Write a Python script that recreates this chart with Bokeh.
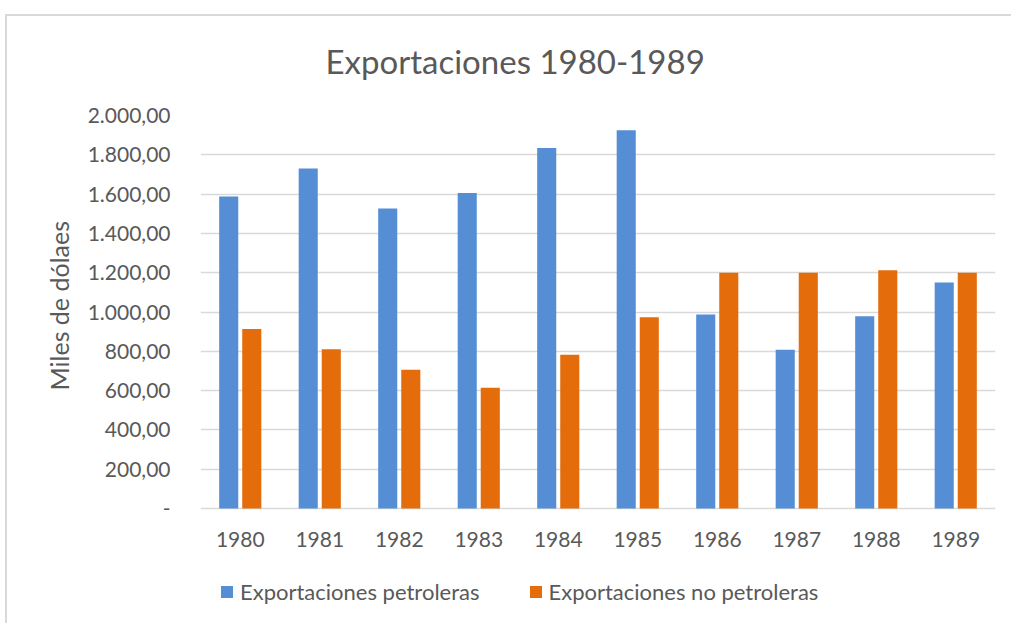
from bokeh.plotting import figure
from bokeh.models import (ColumnDataSource, Range1d, FixedTicker, Legend, LegendItem,
                          Title)
from bokeh.core.properties import value
from bokeh.transform import dodge
from bokeh.embed import file_html
from bokeh.resources import INLINE

years = ["1980", "1981", "1982", "1983", "1984", "1985", "1986", "1987", "1988", "1989"]
petroleras = [1588, 1730, 1527, 1606, 1834, 1925, 987, 808, 979, 1150]
no_petroleras = [914, 810, 706, 615, 783, 974, 1200, 1200, 1212, 1200]
y_ticks = [0, 200, 400, 600, 800, 1000, 1200, 1400, 1600, 1800, 2000]
y_tick_labels = ["-", "200,00", "400,00", "600,00", "800,00", "1.000,00",
                 "1.200,00", "1.400,00", "1.600,00", "1.800,00", "2.000,00"]
series_names = ["Exportaciones petroleras", "Exportaciones no petroleras"]
title_text = "Exportaciones 1980-1989"
y_label = "Miles de dólaes"

BLUE = "#558ED5"
ORANGE = "#E46C0A"
TEXT = "#595959"
GRID = "#D9D9D9"
FONT = "Lato"

src = ColumnDataSource(dict(year=years, pet=petroleras, nopet=no_petroleras))

# frame extended below zero to host the category labels and the legend
p = figure(x_range=years, y_range=Range1d(-585, 2000),
           frame_width=795, frame_height=508,
           output_backend="svg", toolbar_location=None,
           min_border_left=200, min_border_right=16, min_border_top=115,
           min_border_bottom=0)
p.border_fill_alpha = 0
p.background_fill_color = "#FFFFFF"
p.styles = {"background": "linear-gradient(#D9D9D9, #D9D9D9) 5px 14px / 100% 2px no-repeat, "
                          "linear-gradient(#D9D9D9, #D9D9D9) 5px 14px / 2px 100% no-repeat, #FFFFFF"}

p.title.text = title_text
p.title.text_font = FONT
p.title.text_font_size = "33px"
p.title.text_font_style = "normal"
p.title.text_color = TEXT
p.title.align = "left"
p.title.offset = 125
p.title.standoff = 69

r1 = p.vbar(x=dodge("year", -0.145, range=p.x_range), top="pet", width=0.24,
            source=src, fill_color=BLUE, line_color=None)
r2 = p.vbar(x=dodge("year", 0.145, range=p.x_range), top="nopet", width=0.24,
            source=src, fill_color=ORANGE, line_color=None)

# category labels under the zero line
p.text(x="year", y=0, text="year", source=src, y_offset=31,
       text_align="center", text_baseline="middle", text_font=value(FONT),
       text_font_size="21px", text_color=TEXT)

p.outline_line_color = None
p.xgrid.grid_line_color = None
p.ygrid.grid_line_color = GRID
p.ygrid.grid_line_width = 1.5
p.x_range.range_padding = 0
p.xaxis.visible = False

p.yaxis.ticker = FixedTicker(ticks=y_ticks)
p.yaxis.major_label_overrides = {t: l for t, l in zip(y_ticks, y_tick_labels)}
p.yaxis.axis_line_color = None
p.yaxis.major_tick_line_color = None
p.yaxis.minor_tick_line_color = None
p.yaxis.major_label_text_font = FONT
p.yaxis.major_label_text_font_size = "21px"
p.yaxis.major_label_text_color = TEXT
p.yaxis.major_label_standoff = 24

ylab = Title(text=y_label, align="left", offset=233, standoff=22,
             text_font=FONT, text_font_size="25px", text_font_style="normal",
             text_color=TEXT)
p.add_layout(ylab, "left")

legend = Legend(items=[LegendItem(label=series_names[0], renderers=[r1]),
                       LegendItem(label=series_names[1], renderers=[r2])],
                orientation="horizontal", location=(19, 18),
                label_text_font=FONT, label_text_font_size="22px",
                label_text_color=TEXT, glyph_width=15, glyph_height=15,
                label_standoff=6, spacing=48, border_line_color=None,
                background_fill_alpha=0, padding=0, margin=0)
p.add_layout(legend, "center")

open("out.html", "w").write(file_html(p, INLINE))
